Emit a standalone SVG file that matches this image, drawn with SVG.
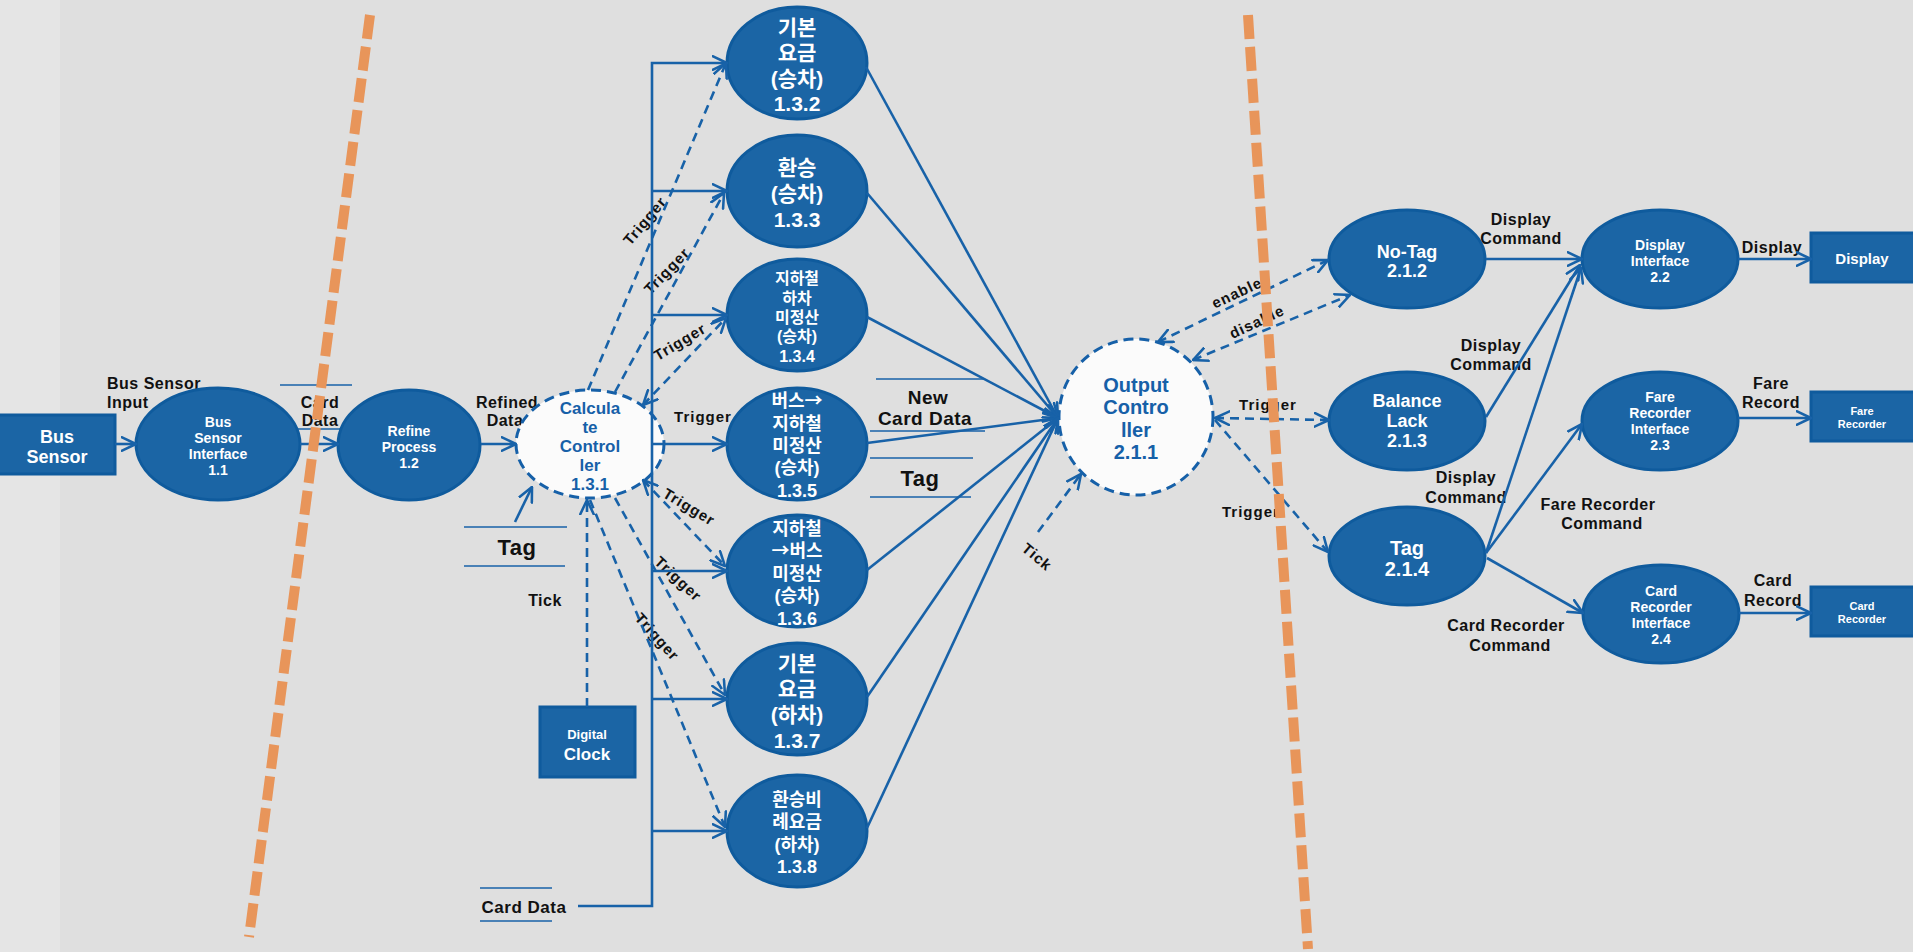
<svg xmlns="http://www.w3.org/2000/svg" width="1913" height="952" viewBox="0 0 1913 952">
<style>
.node{fill:#1b65a5;stroke:#0f5b9d;stroke-width:3}
.ctrl{fill:#fbfbfb;stroke:#1660a8;stroke-width:3;stroke-dasharray:10 6}
.nt{fill:#fff;font-family:"Liberation Sans","Noto Sans CJK KR",sans-serif;font-weight:bold;text-anchor:middle}
.kr{font-family:"Noto Sans CJK KR",sans-serif}
.ct{fill:#1660a8;font-family:"Liberation Sans",sans-serif;font-weight:bold;text-anchor:middle}
.lb{fill:#111;font-family:"Liberation Sans",sans-serif;font-weight:bold;font-size:16px;text-anchor:middle;letter-spacing:0.5px}
.tr{fill:#111;font-family:"Liberation Sans",sans-serif;font-weight:bold;font-size:15px;text-anchor:middle;letter-spacing:1px}
.c{stroke:#1862a8;stroke-width:2.6;fill:none}
.a{marker-end:url(#ah)}
.d{stroke-dasharray:9 6}
.s{marker-start:url(#ah)}
.ul{stroke:#1862a8;stroke-width:1.6}
.or{stroke:#e8955a;stroke-width:10;stroke-dasharray:24 8;fill:none}
</style>
<defs>
<marker id="ah" viewBox="0 0 10 10" refX="9.5" refY="5" markerWidth="16" markerHeight="16" markerUnits="userSpaceOnUse" orient="auto-start-reverse">
<path d="M0,0.5 L9.5,5 L0,9.5" fill="none" stroke="#1862a8" stroke-width="1.6"/>
</marker>
</defs>
<rect x="0" y="0" width="1913" height="952" fill="#dfdfdf"/>
<rect x="0" y="0" width="60" height="952" fill="#e5e5e5"/>

<g id="labels">
<text class="lb" x="107" y="389" style="text-anchor:start">Bus Sensor</text>
<text class="lb" x="107" y="408" style="text-anchor:start">Input</text>
<line class="ul" x1="280" y1="385" x2="352" y2="385"/>
<text class="lb" x="320" y="408">Card</text>
<text class="lb" x="320" y="426">Data</text>
<line class="ul" x1="283" y1="429" x2="354" y2="429"/>
<text class="lb" x="507" y="408">Refined</text>
<text class="lb" x="505" y="426">Data</text>
<line class="ul" x1="464" y1="527" x2="567" y2="527"/>
<text class="lb" x="517" y="555" style="font-size:22px">Tag</text>
<line class="ul" x1="464" y1="566" x2="565" y2="566"/>
<text class="lb" x="545" y="606">Tick</text>
<line class="ul" x1="480" y1="888" x2="552" y2="888"/>
<text class="lb" x="524" y="913" style="font-size:17px">Card Data</text>
<line class="ul" x1="480" y1="921" x2="552" y2="921"/>
<line class="ul" x1="876" y1="379" x2="985" y2="379"/>
<text class="lb" x="928" y="404" style="font-size:19px">New</text>
<text class="lb" x="925" y="425" style="font-size:19px">Card Data</text>
<line class="ul" x1="870" y1="431" x2="985" y2="431"/>
<line class="ul" x1="870" y1="458" x2="973" y2="458"/>
<text class="lb" x="920" y="486" style="font-size:22px">Tag</text>
<line class="ul" x1="870" y1="497" x2="971" y2="497"/>
<text class="tr" transform="translate(645,221) rotate(-50)" y="5">Trigger</text>
<text class="tr" transform="translate(667,271) rotate(-46)" y="5">Trigger</text>
<text class="tr" transform="translate(680,342) rotate(-31)" y="5">Trigger</text>
<text class="tr" transform="translate(703,417)" y="5">Trigger</text>
<text class="tr" transform="translate(689,507) rotate(31)" y="5">Trigger</text>
<text class="tr" transform="translate(678,579) rotate(43)" y="5">Trigger</text>
<text class="tr" transform="translate(657,637) rotate(48)" y="5">Trigger</text>
<text class="tr" transform="translate(1237,293) rotate(-25)" y="5">enable</text>
<text class="tr" transform="translate(1257,322) rotate(-25)" y="5">disable</text>
<text class="tr" x="1268" y="410">Trigger</text>
<text class="tr" x="1222" y="517" style="text-anchor:start">Trigger</text>
<text class="tr" transform="translate(1037,557) rotate(40)" y="5">Tick</text>
<text class="lb" x="1521" y="225">Display</text>
<text class="lb" x="1521" y="244">Command</text>
<text class="lb" x="1491" y="351">Display</text>
<text class="lb" x="1491" y="370">Command</text>
<text class="lb" x="1466" y="483">Display</text>
<text class="lb" x="1466" y="503">Command</text>
<text class="lb" x="1598" y="510">Fare Recorder</text>
<text class="lb" x="1602" y="529">Command</text>
<text class="lb" x="1506" y="631">Card Recorder</text>
<text class="lb" x="1510" y="651">Command</text>
<text class="lb" x="1772" y="253">Display</text>
<text class="lb" x="1771" y="389">Fare</text>
<text class="lb" x="1771" y="408">Record</text>
<text class="lb" x="1773" y="586">Card</text>
<text class="lb" x="1773" y="606">Record</text>
</g>

<g id="n-bus-sensor"><rect class="node" x="-2" y="415" width="117" height="59"/>
<text class="nt" x="57" y="443" font-size="18">Bus</text><text class="nt" x="57" y="463" font-size="18">Sensor</text></g>
<g id="n-1-1"><ellipse class="node" cx="218" cy="444" rx="82" ry="56"/>
<text class="nt" font-size="14" x="218" y="427">Bus</text><text class="nt" font-size="14" x="218" y="443">Sensor</text><text class="nt" font-size="14" x="218" y="459">Interface</text><text class="nt" font-size="14" x="218" y="475">1.1</text></g>
<g id="n-1-2"><ellipse class="node" cx="409" cy="445" rx="71" ry="55"/>
<text class="nt" font-size="14" x="409" y="436">Refine</text><text class="nt" font-size="14" x="409" y="452">Process</text><text class="nt" font-size="14" x="409" y="468">1.2</text></g>
<g id="n-1-3-1"><ellipse class="ctrl" cx="590" cy="444" rx="74" ry="54"/>
<text class="ct" font-size="17" x="590" y="414">Calcula</text><text class="ct" font-size="17" x="590" y="433">te</text><text class="ct" font-size="17" x="590" y="452">Control</text><text class="ct" font-size="17" x="590" y="471">ler</text><text class="ct" font-size="17" x="590" y="490">1.3.1</text></g>
<g id="n-1-3-2"><ellipse class="node" cx="797" cy="63" rx="70" ry="56"/>
<text class="nt" font-size="21" x="797" y="35">기본</text><text class="nt" font-size="21" x="797" y="60">요금</text><text class="nt" font-size="21" x="797" y="86">(승차)</text><text class="nt" font-size="21" x="797" y="111">1.3.2</text></g>
<g id="n-1-3-3"><ellipse class="node" cx="797" cy="191" rx="70" ry="56"/>
<text class="nt" font-size="21" x="797" y="175">환승</text><text class="nt" font-size="21" x="797" y="201">(승차)</text><text class="nt" font-size="21" x="797" y="227">1.3.3</text></g>
<g id="n-1-3-4"><ellipse class="node" cx="797" cy="315" rx="70" ry="56"/>
<text class="nt" font-size="16" x="797" y="284">지하철</text><text class="nt" font-size="16" x="797" y="304">하차</text><text class="nt" font-size="16" x="797" y="323">미정산</text><text class="nt" font-size="16" x="797" y="342">(승차)</text><text class="nt" font-size="16" x="797" y="362">1.3.4</text></g>
<g id="n-1-3-5"><ellipse class="node" cx="797" cy="444" rx="70" ry="56"/>
<text class="nt kr" font-size="18" x="797" y="407">버스→</text><text class="nt" font-size="18" x="797" y="430">지하철</text><text class="nt" font-size="18" x="797" y="452">미정산</text><text class="nt" font-size="18" x="797" y="474">(승차)</text><text class="nt" font-size="18" x="797" y="497">1.3.5</text></g>
<g id="n-1-3-6"><ellipse class="node" cx="797" cy="571" rx="70" ry="56"/>
<text class="nt" font-size="18" x="797" y="535">지하철</text><text class="nt kr" font-size="18" x="797" y="557">→버스</text><text class="nt" font-size="18" x="797" y="580">미정산</text><text class="nt" font-size="18" x="797" y="602">(승차)</text><text class="nt" font-size="18" x="797" y="625">1.3.6</text></g>
<g id="n-1-3-7"><ellipse class="node" cx="797" cy="699" rx="70" ry="56"/>
<text class="nt" font-size="21" x="797" y="671">기본</text><text class="nt" font-size="21" x="797" y="696">요금</text><text class="nt" font-size="21" x="797" y="722">(하차)</text><text class="nt" font-size="21" x="797" y="748">1.3.7</text></g>
<g id="n-1-3-8"><ellipse class="node" cx="797" cy="831" rx="70" ry="56"/>
<text class="nt" font-size="18" x="797" y="806">환승비</text><text class="nt" font-size="18" x="797" y="828">례요금</text><text class="nt" font-size="18" x="797" y="851">(하차)</text><text class="nt" font-size="18" x="797" y="873">1.3.8</text></g>
<g id="n-clock"><rect class="node" x="540" y="707" width="95" height="70"/>
<text class="nt" font-size="13" x="587" y="739">Digital</text><text class="nt" font-size="17" x="587" y="760">Clock</text></g>
<g id="n-2-1-1"><ellipse class="ctrl" cx="1136" cy="417" rx="77" ry="78"/>
<text class="ct" font-size="20" x="1136" y="392">Output</text><text class="ct" font-size="20" x="1136" y="414">Contro</text><text class="ct" font-size="20" x="1136" y="437">ller</text><text class="ct" font-size="20" x="1136" y="459">2.1.1</text></g>
<g id="n-2-1-2"><ellipse class="node" cx="1407" cy="259" rx="78" ry="49"/>
<text class="nt" font-size="18" x="1407" y="258">No-Tag</text><text class="nt" font-size="18" x="1407" y="277">2.1.2</text></g>
<g id="n-2-1-3"><ellipse class="node" cx="1407" cy="421" rx="78" ry="49"/>
<text class="nt" font-size="18" x="1407" y="407">Balance</text><text class="nt" font-size="18" x="1407" y="427">Lack</text><text class="nt" font-size="18" x="1407" y="447">2.1.3</text></g>
<g id="n-2-1-4"><ellipse class="node" cx="1407" cy="556" rx="78" ry="49"/>
<text class="nt" font-size="20" x="1407" y="555">Tag</text><text class="nt" font-size="20" x="1407" y="576">2.1.4</text></g>
<g id="n-2-2"><ellipse class="node" cx="1660" cy="259" rx="78" ry="49"/>
<text class="nt" font-size="14" x="1660" y="250">Display</text><text class="nt" font-size="14" x="1660" y="266">Interface</text><text class="nt" font-size="14" x="1660" y="282">2.2</text></g>
<g id="n-2-3"><ellipse class="node" cx="1660" cy="421" rx="78" ry="49"/>
<text class="nt" font-size="14" x="1660" y="402">Fare</text><text class="nt" font-size="14" x="1660" y="418">Recorder</text><text class="nt" font-size="14" x="1660" y="434">Interface</text><text class="nt" font-size="14" x="1660" y="450">2.3</text></g>
<g id="n-2-4"><ellipse class="node" cx="1661" cy="614" rx="78" ry="49"/>
<text class="nt" font-size="14" x="1661" y="596">Card</text><text class="nt" font-size="14" x="1661" y="612">Recorder</text><text class="nt" font-size="14" x="1661" y="628">Interface</text><text class="nt" font-size="14" x="1661" y="644">2.4</text></g>
<g id="n-display"><rect class="node" x="1811" y="233" width="106" height="49"/>
<text class="nt" font-size="15" x="1862" y="264">Display</text></g>
<g id="n-fare-recorder"><rect class="node" x="1811" y="392" width="106" height="49"/>
<text class="nt" font-size="11" x="1862" y="415">Fare</text><text class="nt" font-size="11" x="1862" y="428">Recorder</text></g>
<g id="n-card-recorder"><rect class="node" x="1811" y="587" width="106" height="49"/>
<text class="nt" font-size="11" x="1862" y="610">Card</text><text class="nt" font-size="11" x="1862" y="623">Recorder</text></g>

<g id="connectors">
<path class="c a" d="M115,444 H136"/>
<path class="c a" d="M300,444 H338"/>
<path class="c a" d="M481,444 H516"/>
<path class="c a" d="M515,522 L532,487"/>
<path class="c a" d="M578,906 H652 V63 H727"/>
<path class="c a" d="M652,191 H727"/>
<path class="c a" d="M652,315 H727"/>
<path class="c a" d="M652,444 H727"/>
<path class="c a" d="M652,571 H727"/>
<path class="c a" d="M652,699 H727"/>
<path class="c a" d="M652,831 H727"/>
<path class="c a d" d="M588,390 L726,63"/>
<path class="c a d" d="M615,392 L724,193"/>
<path class="c a d s" d="M643,405 L726,318"/>
<path class="c a d s" d="M643,480 L725,566"/>
<path class="c a d" d="M615,498 L725,695"/>
<path class="c a d" d="M590,500 L725,827"/>
<path class="c a d" d="M587,707 V500"/>
<path class="c a" d="M866,67 L1058,418"/>
<path class="c a" d="M867,193 L1058,418"/>
<path class="c a" d="M867,317 L1058,418"/>
<path class="c a" d="M867,443 L1058,418"/>
<path class="c a" d="M867,570 L1058,418"/>
<path class="c a" d="M867,697 L1058,418"/>
<path class="c a" d="M867,828 L1058,418"/>
<path class="c a d" d="M1038,532 L1081,474"/>
<path class="c a d s" d="M1158,342 L1328,260"/>
<path class="c a d s" d="M1193,360 L1350,295"/>
<path class="c a d s" d="M1215,418 L1329,420"/>
<path class="c a d" d="M1215,420 L1328,552"/>
<path class="c a" d="M1486,259 H1582"/>
<path class="c a" d="M1486,417 L1580,265"/>
<path class="c a" d="M1486,553 L1581,268"/>
<path class="c a" d="M1486,553 L1582,424"/>
<path class="c a" d="M1487,558 L1583,613"/>
<path class="c a" d="M1738,259 H1811"/>
<path class="c a" d="M1738,418 H1811"/>
<path class="c a" d="M1739,613 H1811"/>
</g>

<g id="boundaries">
<path class="or" d="M370,15 L249,937"/>
<path class="or" d="M1248,15 L1308,949"/>
</g>
</svg>
